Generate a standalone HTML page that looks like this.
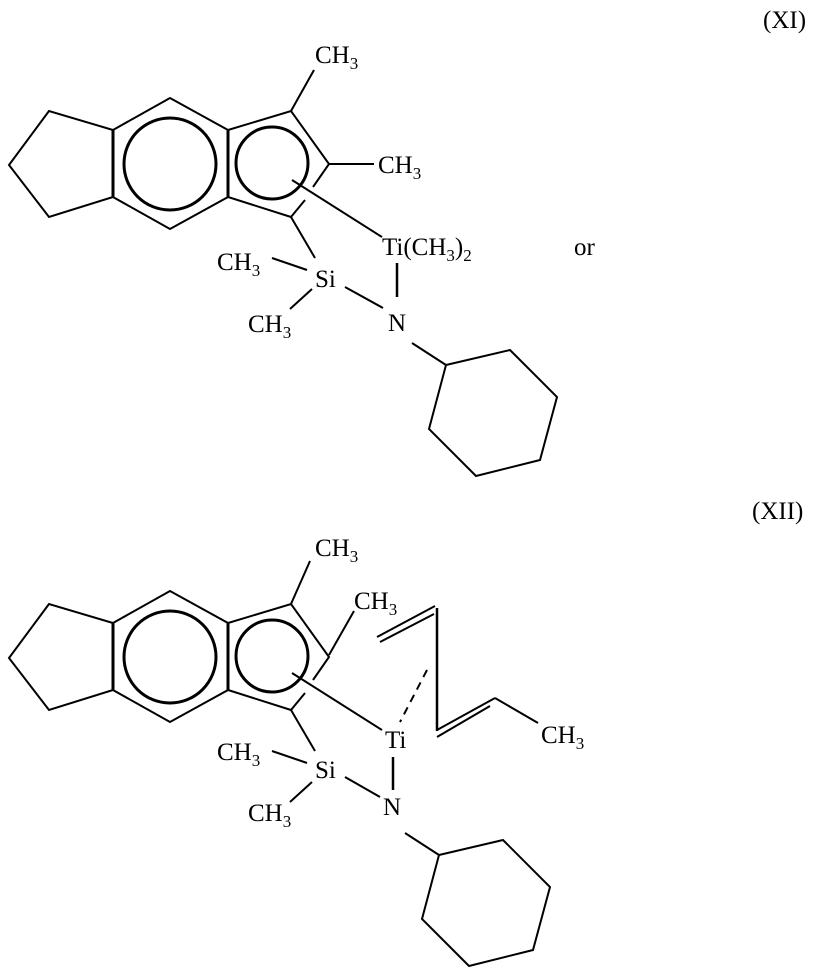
<!DOCTYPE html>
<html><head><meta charset="utf-8"><style>
body{margin:0;background:#fff}
svg{display:block}
text{font-family:"Liberation Serif",serif;font-size:25px;fill:#000}
.s{font-size:17px}
</style></head><body>
<svg width="818" height="972" viewBox="0 0 818 972" xmlns="http://www.w3.org/2000/svg">
<defs>
<g id="core" fill="none" stroke="#000" stroke-width="2">
<polygon points="49,111 9,165 49,217 113,197 113,130"/>
<polygon points="113,130 170,98 228,130 228,197 170,229 113,197"/>
<line x1="113" y1="130" x2="113" y2="197" stroke-width="3"/>
<line x1="228" y1="130" x2="228" y2="197" stroke-width="3"/>
<circle cx="170" cy="164" r="46" stroke-width="3"/>
<polyline points="291,217 228,197 228,130 291,111 329,164 313,187"/>
<line x1="305" y1="200" x2="291" y2="217"/>
<circle cx="272" cy="163" r="36" stroke-width="3"/>
<line x1="291" y1="217" x2="315" y2="258"/>
<line x1="272" y1="258" x2="307" y2="270"/>
<line x1="290" y1="309" x2="312" y2="289"/>
<line x1="292" y1="180" x2="382" y2="237"/>
</g>
</defs>

<!-- XI -->
<text x="763" y="28">(XI)</text>
<use href="#core"/>
<g fill="none" stroke="#000" stroke-width="2">
<line x1="345" y1="287" x2="383" y2="308"/>
<line x1="291" y1="111" x2="314" y2="70"/>
<line x1="329" y1="164" x2="374" y2="164"/>
<line x1="397" y1="263" x2="397" y2="297" stroke-width="2.5"/>
<line x1="412" y1="343" x2="446" y2="365"/>
<polygon points="446,365 510,350 557,397 540,460 476,476 429,429"/>
</g>
<text x="315" y="63">CH<tspan class="s" dy="6">3</tspan></text>
<text x="378" y="173">CH<tspan class="s" dy="6">3</tspan></text>
<text x="382" y="255">Ti(CH<tspan class="s" dy="6">3</tspan><tspan dy="-6">)</tspan><tspan class="s" dy="6">2</tspan></text>
<text x="217" y="270">CH<tspan class="s" dy="6">3</tspan></text>
<text x="315" y="287">Si</text>
<text x="248" y="332">CH<tspan class="s" dy="6">3</tspan></text>
<text x="388" y="331">N</text>
<text x="574" y="255">or</text>

<!-- XII -->
<text x="752" y="519">(XII)</text>
<g transform="translate(0,493)">
<use href="#core"/>
<g fill="none" stroke="#000" stroke-width="2">
<line x1="345" y1="284" x2="380" y2="304"/>
<line x1="291" y1="111" x2="310" y2="68"/>
<line x1="329" y1="162" x2="354" y2="118"/>
</g>
</g>
<g fill="none" stroke="#000" stroke-width="2">
<line x1="393" y1="757" x2="393" y2="790" stroke-width="2.5"/>
<line x1="437" y1="608" x2="437" y2="731" stroke-width="2.5"/>
<line x1="435" y1="606" x2="377" y2="637"/>
<line x1="434" y1="614" x2="380" y2="642"/>
<line x1="437" y1="730" x2="495" y2="698"/>
<line x1="437" y1="737" x2="490" y2="706"/>
<line x1="495" y1="698" x2="538" y2="723"/>
<line x1="427" y1="670" x2="400" y2="722" stroke-dasharray="8,6"/>
<line x1="405" y1="833" x2="439" y2="855"/>
<polygon points="439,855 503,840 550,887 533,950 469,966 422,919"/>
</g>
<text x="315" y="556">CH<tspan class="s" dy="6">3</tspan></text>
<text x="354" y="609">CH<tspan class="s" dy="6">3</tspan></text>
<text x="385" y="748">Ti</text>
<text x="541" y="743">CH<tspan class="s" dy="6">3</tspan></text>
<text x="217" y="760">CH<tspan class="s" dy="6">3</tspan></text>
<text x="315" y="778">Si</text>
<text x="248" y="821">CH<tspan class="s" dy="6">3</tspan></text>
<text x="383" y="815">N</text>
</svg>
</body></html>
